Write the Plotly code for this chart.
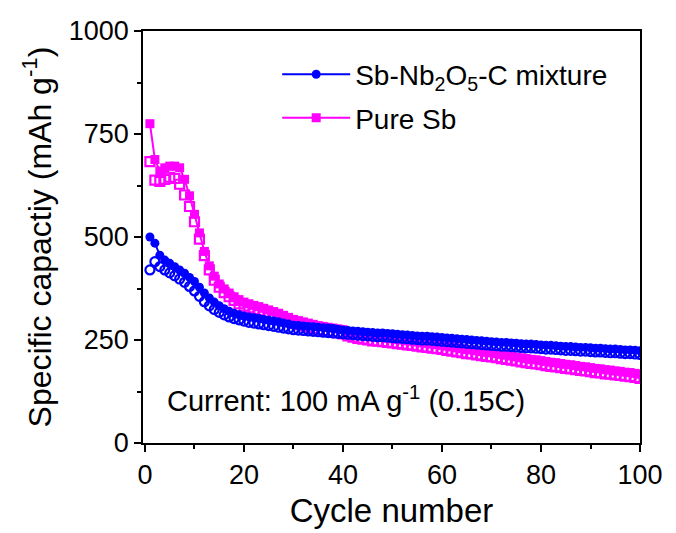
import plotly.graph_objects as go

cycles = list(range(1, 101))

mix_discharge = [
    500, 485, 456, 444, 436, 428, 420, 412, 402, 392,
    378, 364, 352, 342, 333, 326, 320, 315, 311, 308,
    306, 304, 302, 300, 298, 296, 294, 291, 289, 286,
    285, 284, 283, 282, 281, 280, 279, 278, 276, 274,
    273, 272, 271, 270, 269, 268, 267, 267, 266, 265,
    264, 263, 262, 261, 260, 259, 259, 258, 257, 256,
    255, 254, 253, 252, 251, 250, 249, 248, 247, 246,
    245, 244, 244, 243, 242, 241, 240, 240, 239, 238,
    237, 237, 236, 235, 234, 234, 233, 232, 232, 231,
    230, 230, 229, 228, 228, 227, 226, 226, 225, 224,
]
mix_charge = [
    420, 440, 428, 420, 413, 406, 398, 390, 380, 369,
    356, 343, 333, 324, 317, 311, 306, 302, 299, 296,
    293, 291, 289, 287, 285, 283, 281, 279, 277, 275,
    274, 273, 272, 271, 270, 269, 268, 267, 266, 265,
    264, 263, 262, 261, 260, 259, 258, 258, 257, 256,
    255, 254, 253, 252, 251, 250, 250, 249, 248, 247,
    246, 245, 244, 243, 242, 241, 240, 239, 238, 237,
    236, 235, 235, 234, 233, 232, 231, 231, 230, 229,
    228, 228, 227, 226, 225, 225, 224, 223, 223, 222,
    221, 221, 220, 219, 219, 218, 217, 217, 216, 215,
]
sb_discharge = [
    775, 688, 660, 668, 672, 672, 668, 640, 600, 555,
    510, 465, 430, 405, 386, 374, 364, 355, 348, 342,
    338, 334, 331, 327, 323, 319, 315, 310, 305, 300,
    297, 294, 291, 288, 285, 283, 281, 279, 277, 275,
    270, 267, 264, 262, 260, 258, 257, 256, 254, 253,
    251, 250, 248, 247, 245, 243, 242, 240, 239, 237,
    235, 233, 231, 229, 227, 226, 224, 222, 220, 219,
    217, 215, 213, 211, 209, 207, 205, 203, 202, 200,
    198, 196, 195, 193, 191, 190, 188, 186, 185, 183,
    181, 180, 178, 177, 175, 174, 172, 171, 169, 167,
]
sb_charge = [
    683, 638, 635, 640, 645, 642, 628, 602, 574, 537,
    495, 455, 420, 395, 378, 365, 355, 346, 338, 332,
    328, 324, 321, 317, 313, 309, 305, 300, 295, 290,
    287, 284, 281, 278, 275, 273, 271, 269, 267, 265,
    260, 257, 254, 252, 250, 248, 247, 246, 244, 243,
    241, 240, 238, 237, 235, 233, 232, 230, 229, 227,
    225, 223, 221, 219, 217, 216, 214, 212, 210, 209,
    207, 205, 203, 201, 199, 197, 195, 193, 192, 190,
    188, 186, 185, 183, 181, 180, 178, 176, 175, 173,
    171, 170, 168, 167, 165, 164, 162, 161, 159, 157,
]

x_ticks = [0, 20, 40, 60, 80, 100]
y_ticks = [0, 250, 500, 750, 1000]

BLUE = "#0000FF"
MAGENTA = "#FF00FF"
FONT = "Liberation Sans, Arial, sans-serif"

fig = go.Figure()

fig.add_trace(go.Scatter(
    x=cycles, y=sb_charge, mode="markers", showlegend=False, legendgroup="sb",
    marker=dict(symbol="square-open", size=9, color=MAGENTA, line=dict(width=2.2, color=MAGENTA)),
))
fig.add_trace(go.Scatter(
    x=cycles, y=sb_discharge, mode="lines+markers", name="Pure Sb", legendrank=2, legendgroup="sb",
    line=dict(color=MAGENTA, width=2),
    marker=dict(symbol="square", size=9, color=MAGENTA),
))
fig.add_trace(go.Scatter(
    x=cycles, y=mix_charge, mode="markers", showlegend=False, legendgroup="mix",
    marker=dict(symbol="circle-open", size=9, color=BLUE, line=dict(width=2.2, color=BLUE)),
))
fig.add_trace(go.Scatter(
    x=cycles, y=mix_discharge, mode="lines+markers", legendgroup="mix",
    name="Sb-Nb<sub>2</sub>O<sub>5</sub>-C mixture", legendrank=1,
    line=dict(color=BLUE, width=2),
    marker=dict(symbol="circle", size=9, color=BLUE),
))

fig.add_annotation(
    x=0.045, y=0.108, xref="paper", yref="paper", xanchor="left", yanchor="middle",
    text="Current: 100 mA g<sup>-1</sup> (0.15C)", showarrow=False,
    font=dict(family=FONT, size=29, color="black"),
)

axis_common = dict(
    showline=True, linecolor="black", linewidth=1.5, mirror=True,
    ticks="outside", ticklen=7, tickwidth=1.5, tickcolor="black",
    showgrid=False, zeroline=False, automargin=False,
    tickfont=dict(family=FONT, size=27, color="black"),
)

fig.update_xaxes(
    range=[-0.4, 100], tickvals=x_ticks, ticktext=[str(v) for v in x_ticks],
    minor=dict(tickvals=[10, 30, 50, 70, 90], ticks="outside", ticklen=4, tickwidth=1.5, tickcolor="black"),
    title=dict(text="Cycle number", font=dict(family=FONT, size=33, color="black"), standoff=10),
    **axis_common,
)
fig.update_yaxes(
    range=[0, 1000], tickvals=y_ticks, ticktext=[str(v) for v in y_ticks],
    minor=dict(tickvals=[125, 375, 625, 875], ticks="outside", ticklen=4, tickwidth=1.5, tickcolor="black"),
    title=dict(text="Specific capactiy (mAh g<sup>-1</sup>)", font=dict(family=FONT, size=32, color="black"), standoff=8),
    **axis_common,
)

fig.update_layout(
    width=676, height=533,
    margin=dict(l=135, r=44, t=23, b=98),
    paper_bgcolor="white", plot_bgcolor="white",
    font=dict(family=FONT, color="black"),
    legend=dict(
        x=0.27, y=0.955, xanchor="left", yanchor="top",
        bgcolor="rgba(0,0,0,0)", borderwidth=0,
        font=dict(family=FONT, size=28, color="black"),
        itemwidth=68, tracegroupgap=4,
    ),
)

fig.write_html("out.html")
